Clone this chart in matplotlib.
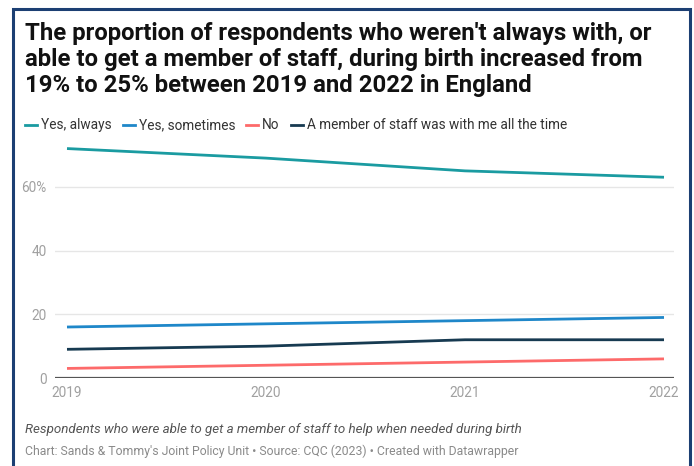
import matplotlib
matplotlib.use("Agg")
import matplotlib.pyplot as plt
from matplotlib.patches import Rectangle

plt.rcParams['font.family'] = ['Roboto', 'DejaVu Sans']

# data
years = [2019, 2020, 2021, 2022]
yes_always = [72, 69, 65, 63]
yes_sometimes = [16, 17, 18, 19]
no = [3, 4, 5, 6]
staff_with_me = [9, 10, 12, 12]

series = [
    ("Yes, always", yes_always, "#1a9ba1"),
    ("Yes, sometimes", yes_sometimes, "#1f87c9"),
    ("No", no, "#fd6a6a"),
    ("A member of staff was with me all the time", staff_with_me, "#173a51"),
]
y_ticks = [0, 20, 40, 60]
y_labels = ["0", "20", "40", "60%"]

W, H = 694, 466
fig = plt.figure(figsize=(W / 100, H / 100), dpi=100)

def fx(px):
    return px / W

def fy(py):
    return 1 - py / H

# outer frame
fig.patches.append(Rectangle((fx(13), fy(480)), fx(690) - fx(13), fy(9) - fy(480),
                             transform=fig.transFigure, fill=False,
                             edgecolor="#1c3f73", linewidth=2.2))

title = ("The proportion of respondents who weren't always with, or\n"
         "able to get a member of staff, during birth increased from\n"
         "19% to 25% between 2019 and 2022 in England")
fig.text(fx(25), fy(22), title, ha="left", va="top", fontsize=17.2,
         fontweight="bold", color="#111111", linespacing=1.18)

# legend drawn as text + short line
lx = 25
for label, vals, col in series:
    fig.lines.append(plt.Line2D([fx(lx), fx(lx + 12)], [fy(125), fy(125)],
                                transform=fig.transFigure, color=col, linewidth=2))
    t = fig.text(fx(lx + 16), fy(125), label, ha="left", va="center",
                 fontsize=9.8, color="#333333")
    fig.canvas.draw()
    bb = t.get_window_extent()
    lx = bb.x1 + 11

ax = fig.add_axes([fx(55), fy(378), fx(674) - fx(55), fy(139) - fy(378)])
for label, vals, col in series:
    ax.plot(years, vals, color=col, linewidth=2, solid_capstyle="butt")

ax.set_xlim(2019 - 12 / 199, 2022 + 10 / 199)
ax.set_ylim(0, 75)
ax.set_yticks(y_ticks)
ax.set_yticklabels(y_labels)
ax.set_xticks(years)
ax.set_xticklabels([str(y) for y in years])
ax.tick_params(axis="both", length=0, labelsize=9.8, labelcolor="#a0a0a0")
ax.tick_params(axis="y", pad=6)
ax.tick_params(axis="x", pad=6)
for s in ax.spines.values():
    s.set_visible(False)
ax.grid(axis="y", color="#e6e6e6", linewidth=1)
ax.axhline(0, color="#555555", linewidth=1.6, zorder=1)
ax.set_axisbelow(True)

fig.text(fx(25), fy(430), "Respondents who were able to get a member of staff to help when needed during birth",
         ha="left", va="center", fontsize=9.6, style="italic", color="#555555")
fig.text(fx(25), fy(451), "Chart: Sands & Tommy's Joint Policy Unit \u2022 Source: CQC (2023) \u2022 Created with Datawrapper",
         ha="left", va="center", fontsize=8.8, color="#8a8a8a")

fig.savefig("out.png", dpi=100)
